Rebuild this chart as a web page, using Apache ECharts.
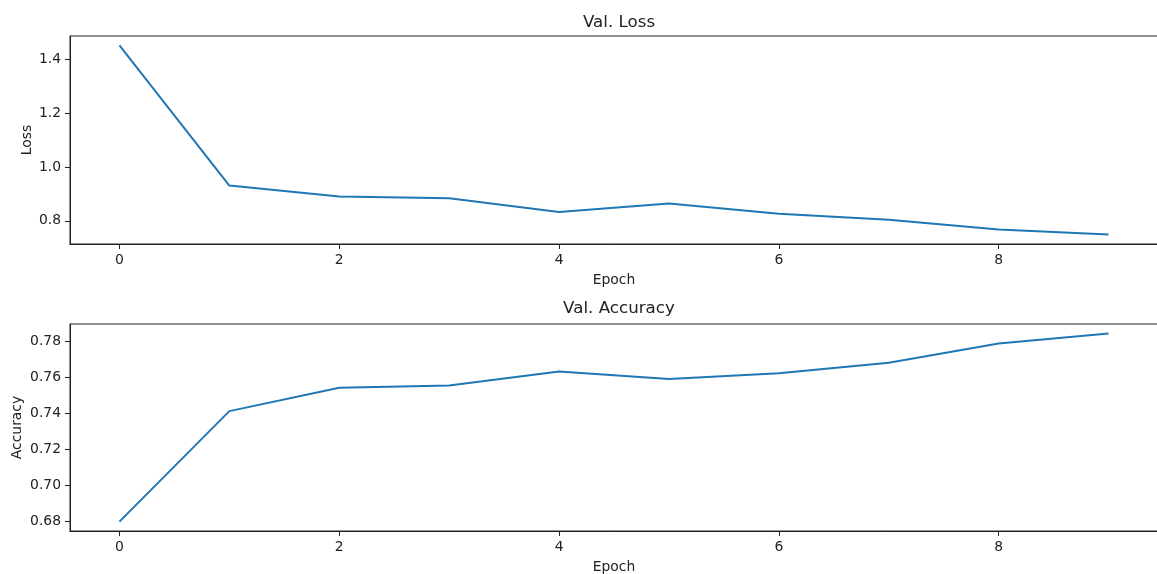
<!DOCTYPE html>
<html>
<head>
<meta charset="utf-8">
<script src="https://cdn.jsdelivr.net/npm/echarts@6/dist/echarts.min.js"></script>
<style>
  html, body { margin: 0; padding: 0; background: #fff; }
  #chart { width: 1157px; height: 574px; }
</style>
</head>
<body>
<div id="chart"></div>
<script>
// Validation history, one value per epoch
const epochs = [0, 1, 2, 3, 4, 5, 6, 7, 8, 9];
const valLoss = [1.451, 0.931, 0.890, 0.884, 0.833, 0.864, 0.826, 0.804, 0.768, 0.749];
const valAccuracy = [0.680, 0.7414, 0.7544, 0.7556, 0.7634, 0.7593, 0.7624, 0.7683, 0.779, 0.7846];

const epochTicks = [0, 2, 4, 6, 8];
const lossTicks = [0.8, 1.0, 1.2, 1.4];
const accTicks = [0.68, 0.70, 0.72, 0.74, 0.76, 0.78];

const FONT = "DejaVu Sans";
const INK = "#222";
const BLUE = "#1f77b4";

// matplotlib-style axes: 5% padding on both ends of the data range
function padded(vals) {
  const lo = Math.min(...vals), hi = Math.max(...vals), r = hi - lo;
  return { min: lo - 0.05 * r, max: hi + 0.05 * r };
}

function xAxis(gridIndex) {
  const p = padded(epochs);
  return {
    type: "value", gridIndex, min: p.min, max: p.max,
    name: "Epoch", nameLocation: "middle", nameGap: 29,
    nameTextStyle: { color: INK, fontFamily: FONT, fontSize: 13.9 },
    axisLine: { show: true, onZero: false, lineStyle: { color: INK, width: 1 } },
    axisTick: { show: true, inside: false, length: 5, lineStyle: { color: INK }, customValues: epochTicks },
    axisLabel: { color: INK, fontFamily: FONT, fontSize: 13.9, margin: 9, customValues: epochTicks },
    splitLine: { show: false },
  };
}

function yAxis(gridIndex, vals, ticks, decimals, name, gap) {
  const p = padded(vals);
  return {
    type: "value", gridIndex, min: p.min, max: p.max,
    name, nameLocation: "middle", nameGap: gap, nameRotate: 90, nameMoveOverlap: false,
    nameTextStyle: { color: INK, fontFamily: FONT, fontSize: 13.9 },
    axisLine: { show: true, onZero: false, lineStyle: { color: INK, width: 1 } },
    axisTick: { show: true, inside: false, length: 5, lineStyle: { color: INK }, customValues: ticks },
    axisLabel: {
      color: INK, fontFamily: FONT, fontSize: 13.9, margin: 9, customValues: ticks,
      formatter: (v) => v.toFixed(decimals),
    },
    splitLine: { show: false },
  };
}

const gridBase = {
  left: 70, width: 1088, show: true, borderColor: INK, borderWidth: 1,
  backgroundColor: "transparent", containLabel: false, outerBoundsMode: "none",
};

const chart = echarts.init(document.getElementById("chart"), null, { renderer: "canvas" });
chart.setOption({
  animation: false,
  backgroundColor: "#fff",
  title: [
    { text: "Val. Loss", left: 614, top: 9, textAlign: "center",
      textStyle: { color: INK, fontFamily: FONT, fontSize: 16.7, fontWeight: "normal" } },
    { text: "Val. Accuracy", left: 614, top: 295, textAlign: "center",
      textStyle: { color: INK, fontFamily: FONT, fontSize: 16.7, fontWeight: "normal" } },
  ],
  grid: [
    Object.assign({ top: 36, height: 208 }, gridBase),
    Object.assign({ top: 324, height: 207 }, gridBase),
  ],
  xAxis: [xAxis(0), xAxis(1)],
  yAxis: [
    yAxis(0, valLoss, lossTicks, 1, "Loss", 36),
    yAxis(1, valAccuracy, accTicks, 2, "Accuracy", 46),
  ],
  series: [
    { type: "line", xAxisIndex: 0, yAxisIndex: 0, showSymbol: false, symbol: "none",
      lineStyle: { color: BLUE, width: 2 }, data: epochs.map((e, i) => [e, valLoss[i]]) },
    { type: "line", xAxisIndex: 1, yAxisIndex: 1, showSymbol: false, symbol: "none",
      lineStyle: { color: BLUE, width: 2 }, data: epochs.map((e, i) => [e, valAccuracy[i]]) },
  ],
});
</script>
</body>
</html>
